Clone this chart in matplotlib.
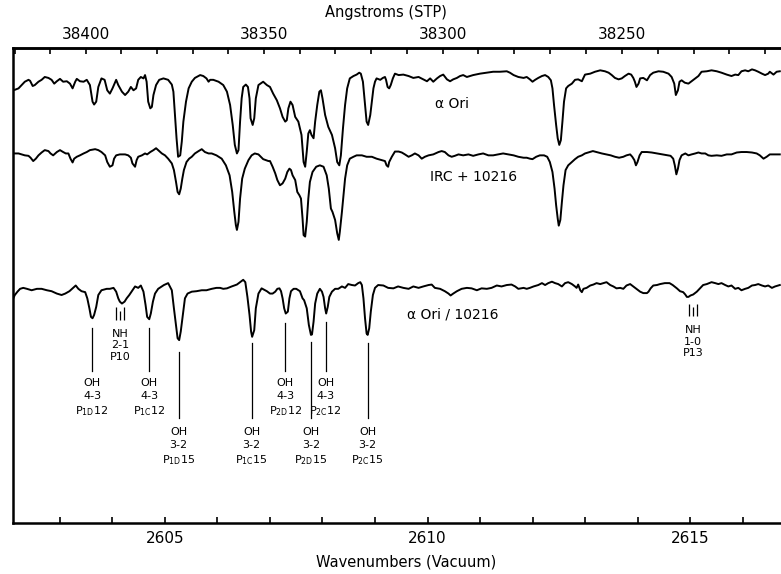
import numpy as np
import matplotlib
matplotlib.use("Agg")
from matplotlib import pyplot as plt

plt.rcParams['font.family'] = ['DejaVu Sans']
plt.rcParams['mathtext.default'] = 'regular'

# alpha Ori spectrum (wavenumber cm-1, relative intensity, arbitrary units)
wn_ori = [2602.14, 2602.21, 2602.27, 2602.33, 2602.40, 2602.43, 2602.48, 2602.52, 2602.59, 2602.65,
          2602.71, 2602.78, 2602.84, 2602.89, 2602.94, 2603.00, 2603.06, 2603.13, 2603.19, 2603.24,
          2603.29, 2603.32, 2603.38, 2603.45, 2603.51, 2603.57, 2603.62, 2603.65, 2603.69, 2603.73,
          2603.79, 2603.85, 2603.90, 2603.95, 2604.00, 2604.07, 2604.11, 2604.18, 2604.24, 2604.30,
          2604.35, 2604.40, 2604.45, 2604.49, 2604.54, 2604.59, 2604.62, 2604.65, 2604.68, 2604.72,
          2604.75, 2604.78, 2604.83, 2604.89, 2604.97, 2605.06, 2605.13, 2605.16, 2605.19, 2605.22,
          2605.25, 2605.29, 2605.32, 2605.35, 2605.40, 2605.45, 2605.51, 2605.57, 2605.67, 2605.73,
          2605.79, 2605.83, 2605.86, 2605.92, 2606.02, 2606.11, 2606.18, 2606.24, 2606.29, 2606.33,
          2606.37, 2606.40, 2606.43, 2606.46, 2606.49, 2606.54, 2606.58, 2606.61, 2606.63, 2606.67,
          2606.70, 2606.73, 2606.78, 2606.87, 2606.94, 2607.00, 2607.06, 2607.13, 2607.19, 2607.24,
          2607.29, 2607.32, 2607.35, 2607.39, 2607.43, 2607.48, 2607.54, 2607.60, 2607.64, 2607.67,
          2607.70, 2607.73, 2607.76, 2607.79, 2607.83, 2607.86, 2607.90, 2607.94, 2607.97, 2608.00,
          2608.05, 2608.11, 2608.18, 2608.24, 2608.28, 2608.32, 2608.35, 2608.39, 2608.43, 2608.47,
          2608.52, 2608.59, 2608.65, 2608.70, 2608.73, 2608.77, 2608.81, 2608.84, 2608.87, 2608.91,
          2608.94, 2608.97, 2609.00, 2609.03, 2609.10, 2609.15, 2609.19, 2609.21, 2609.24, 2609.27,
          2609.30, 2609.34, 2609.38, 2609.45, 2609.54, 2609.64, 2609.73, 2609.83, 2609.92, 2609.99,
          2610.05, 2610.11, 2610.18, 2610.24, 2610.30, 2610.37, 2610.43, 2610.49, 2610.56, 2610.62,
          2610.68, 2610.75, 2610.87, 2611.00, 2611.13, 2611.25, 2611.38, 2611.51, 2611.57, 2611.64,
          2611.73, 2611.83, 2611.89, 2611.95, 2612.00, 2612.05, 2612.11, 2612.18, 2612.24, 2612.30,
          2612.35, 2612.38, 2612.41, 2612.45, 2612.48, 2612.51, 2612.54, 2612.57, 2612.60, 2612.64,
          2612.68, 2612.75, 2612.81, 2612.87, 2612.94, 2613.00, 2613.10, 2613.19, 2613.29, 2613.38,
          2613.45, 2613.51, 2613.57, 2613.64, 2613.70, 2613.76, 2613.83, 2613.88, 2613.92, 2613.95,
          2613.98, 2614.02, 2614.05, 2614.11, 2614.18, 2614.24, 2614.30, 2614.40, 2614.49, 2614.59,
          2614.65, 2614.70, 2614.73, 2614.77, 2614.80, 2614.84, 2614.90, 2614.97, 2615.03, 2615.10,
          2615.16, 2615.22, 2615.32, 2615.41, 2615.51, 2615.60, 2615.70, 2615.79, 2615.86, 2615.92,
          2615.98, 2616.05, 2616.11, 2616.18, 2616.24, 2616.30, 2616.37, 2616.43, 2616.49, 2616.52,
          2616.59, 2616.65, 2616.71]
fl_ori = [91.2, 91.5, 92.2, 92.9, 93.3, 93.1, 92.0, 92.2, 92.9, 93.3,
          93.9, 93.7, 93.3, 92.5, 93.0, 93.5, 92.9, 93.0, 92.5, 91.5,
          92.9, 93.5, 93.0, 92.9, 93.3, 92.2, 88.7, 88.1, 88.7, 91.8,
          93.6, 93.3, 91.1, 90.4, 91.5, 93.3, 92.2, 90.8, 90.1, 90.8,
          91.8, 91.1, 91.5, 93.3, 93.9, 93.6, 94.3, 92.9, 88.7, 87.3,
          87.6, 90.1, 92.2, 93.3, 93.6, 93.3, 92.3, 90.8, 85.9, 81.0,
          77.1, 77.4, 80.3, 84.5, 88.7, 91.5, 92.9, 93.7, 94.3, 94.1,
          93.6, 92.9, 93.3, 93.3, 92.9, 92.2, 90.8, 88.0, 83.8, 79.6,
          77.8, 78.5, 84.5, 89.4, 91.8, 92.3, 91.8, 89.4, 85.2, 83.8,
          85.2, 89.4, 92.2, 92.9, 92.2, 91.8, 90.4, 89.0, 87.3, 85.5,
          84.5, 84.8, 87.3, 88.7, 88.0, 85.5, 84.5, 81.7, 76.0, 75.0,
          78.2, 82.0, 82.7, 81.7, 81.0, 84.5, 88.0, 90.8, 91.1, 89.4,
          85.9, 83.4, 81.7, 78.9, 76.0, 75.3, 77.4, 83.1, 88.0, 91.5,
          93.6, 94.1, 94.4, 94.8, 94.6, 92.9, 88.0, 84.5, 83.8, 85.9,
          88.7, 91.5, 92.9, 93.6, 93.3, 93.7, 93.9, 93.3, 91.8, 91.5,
          92.2, 93.6, 94.6, 94.3, 94.4, 94.1, 93.7, 93.9, 93.4, 93.0,
          93.6, 92.9, 93.6, 94.1, 94.4, 93.4, 93.0, 93.4, 93.7, 94.1,
          94.3, 93.9, 94.3, 94.6, 94.8, 95.0, 95.0, 95.1, 94.8, 94.3,
          93.9, 93.7, 93.9, 93.4, 92.9, 93.3, 93.7, 94.1, 94.3, 93.9,
          93.2, 91.5, 88.0, 83.8, 81.0, 79.6, 80.6, 84.5, 88.7, 91.5,
          92.0, 92.5, 93.3, 93.4, 93.0, 94.4, 94.6, 95.0, 95.3, 95.1,
          94.8, 94.3, 93.7, 93.4, 93.6, 94.1, 94.6, 94.4, 93.7, 92.9,
          91.8, 92.5, 93.6, 93.7, 93.2, 94.3, 94.8, 95.1, 95.0, 94.6,
          93.9, 92.5, 90.1, 91.1, 92.9, 93.2, 92.7, 92.5, 93.0, 93.6,
          94.1, 95.0, 95.1, 95.3, 95.1, 94.8, 94.4, 94.1, 94.4, 94.3,
          95.1, 95.3, 95.1, 95.5, 95.3, 95.0, 94.6, 94.3, 94.6, 95.0,
          94.4, 95.0, 95.1]

# IRC +10216 spectrum
wn_irc = [2602.14, 2602.21, 2602.27, 2602.33, 2602.40, 2602.44, 2602.49, 2602.54, 2602.59, 2602.65,
          2602.71, 2602.78, 2602.82, 2602.87, 2602.94, 2603.00, 2603.06, 2603.11, 2603.16, 2603.20,
          2603.24, 2603.27, 2603.32, 2603.38, 2603.45, 2603.51, 2603.57, 2603.67, 2603.73, 2603.79,
          2603.86, 2603.90, 2603.95, 2604.00, 2604.03, 2604.07, 2604.14, 2604.24, 2604.30, 2604.35,
          2604.38, 2604.43, 2604.46, 2604.49, 2604.56, 2604.62, 2604.66, 2604.72, 2604.78, 2604.83,
          2604.87, 2604.94, 2605.00, 2605.06, 2605.13, 2605.17, 2605.21, 2605.24, 2605.27, 2605.30,
          2605.33, 2605.36, 2605.41, 2605.46, 2605.51, 2605.57, 2605.64, 2605.70, 2605.76, 2605.83,
          2605.89, 2605.98, 2606.08, 2606.16, 2606.23, 2606.28, 2606.32, 2606.35, 2606.37, 2606.40,
          2606.43, 2606.47, 2606.52, 2606.59, 2606.65, 2606.71, 2606.78, 2606.87, 2606.92, 2606.97,
          2607.00, 2607.05, 2607.10, 2607.14, 2607.19, 2607.24, 2607.29, 2607.33, 2607.37, 2607.40,
          2607.43, 2607.48, 2607.52, 2607.56, 2607.59, 2607.62, 2607.64, 2607.67, 2607.70, 2607.73,
          2607.76, 2607.81, 2607.88, 2607.95, 2608.02, 2608.08, 2608.12, 2608.16, 2608.19, 2608.24,
          2608.28, 2608.31, 2608.33, 2608.37, 2608.40, 2608.43, 2608.47, 2608.52, 2608.59, 2608.65,
          2608.75, 2608.84, 2608.94, 2609.03, 2609.13, 2609.19, 2609.22, 2609.25, 2609.27, 2609.32,
          2609.38, 2609.45, 2609.51, 2609.57, 2609.64, 2609.70, 2609.76, 2609.83, 2609.89, 2609.95,
          2610.02, 2610.11, 2610.21, 2610.27, 2610.33, 2610.40, 2610.46, 2610.52, 2610.59, 2610.68,
          2610.78, 2610.87, 2610.97, 2611.06, 2611.16, 2611.25, 2611.35, 2611.44, 2611.54, 2611.64,
          2611.73, 2611.83, 2611.89, 2611.95, 2612.00, 2612.07, 2612.14, 2612.22, 2612.28, 2612.33,
          2612.38, 2612.42, 2612.45, 2612.48, 2612.50, 2612.53, 2612.56, 2612.59, 2612.63, 2612.68,
          2612.75, 2612.81, 2612.87, 2612.94, 2613.00, 2613.06, 2613.15, 2613.22, 2613.32, 2613.41,
          2613.49, 2613.57, 2613.65, 2613.73, 2613.79, 2613.86, 2613.90, 2613.94, 2613.97, 2614.00,
          2614.04, 2614.08, 2614.18, 2614.27, 2614.37, 2614.46, 2614.56, 2614.63, 2614.68, 2614.71,
          2614.74, 2614.77, 2614.80, 2614.84, 2614.91, 2614.97, 2615.03, 2615.10, 2615.16, 2615.22,
          2615.29, 2615.35, 2615.41, 2615.51, 2615.60, 2615.70, 2615.79, 2615.89, 2615.98, 2616.08,
          2616.18, 2616.27, 2616.33, 2616.40, 2616.46, 2616.52, 2616.62, 2616.71]
fl_irc = [77.8, 77.8, 77.6, 77.4, 77.3, 76.9, 76.2, 76.7, 77.4, 78.0,
          78.5, 78.3, 77.8, 77.4, 78.1, 78.5, 78.1, 77.8, 77.8, 76.7,
          75.9, 76.7, 77.1, 77.4, 77.8, 78.1, 78.5, 78.7, 78.5, 78.1,
          77.4, 76.0, 75.0, 75.3, 76.7, 77.4, 77.6, 77.6, 77.4, 76.9,
          75.7, 75.0, 76.4, 77.1, 77.4, 77.8, 77.6, 78.1, 78.5, 78.9,
          78.5, 77.8, 77.4, 76.7, 75.7, 74.3, 71.8, 69.7, 69.2, 70.4,
          72.5, 74.3, 76.0, 76.7, 77.1, 77.8, 78.3, 78.7, 78.1, 77.8,
          77.8, 77.4, 76.7, 75.3, 73.2, 69.7, 65.5, 62.7, 61.7, 63.4,
          68.3, 72.5, 74.6, 76.4, 77.4, 77.8, 77.6, 76.6, 76.4, 76.2,
          76.2, 75.0, 73.6, 72.2, 71.1, 71.5, 72.5, 73.9, 74.6, 74.3,
          73.2, 72.2, 69.7, 69.0, 68.3, 64.1, 60.6, 60.3, 63.4, 68.3,
          71.8, 73.9, 75.0, 75.3, 75.0, 73.2, 70.4, 66.2, 65.5, 63.8,
          61.0, 59.6, 61.3, 65.5, 69.0, 72.5, 75.3, 76.7, 77.1, 77.4,
          77.4, 77.1, 77.1, 76.7, 76.4, 76.2, 75.3, 75.0, 76.0, 77.1,
          78.2, 78.2, 78.0, 77.6, 77.1, 77.4, 77.8, 77.4, 76.7, 77.1,
          77.4, 77.6, 78.1, 78.3, 78.1, 77.4, 77.1, 77.3, 77.6, 77.4,
          77.6, 77.3, 77.6, 77.8, 77.4, 77.4, 77.6, 77.8, 77.6, 77.4,
          77.1, 76.9, 76.9, 76.7, 76.6, 77.1, 77.4, 77.4, 77.1, 76.0,
          73.9, 70.4, 66.9, 64.1, 62.6, 63.8, 67.6, 71.1, 74.3, 75.3,
          76.0, 76.6, 77.1, 77.4, 77.8, 78.0, 78.3, 78.1, 77.8, 77.6,
          77.4, 77.1, 76.9, 77.1, 77.4, 77.6, 77.1, 76.4, 75.3, 76.0,
          77.4, 78.1, 78.1, 78.0, 77.8, 77.6, 77.4, 77.3, 76.7, 75.3,
          73.4, 74.6, 76.4, 77.4, 77.8, 77.4, 77.6, 77.8, 78.0, 77.8,
          77.8, 77.4, 77.3, 77.4, 77.3, 77.6, 77.6, 78.0, 78.1, 78.1,
          78.0, 77.8, 77.4, 76.7, 77.1, 77.6, 77.6, 77.6]

# ratio alpha Ori / IRC +10216
wn_rat = [2602.11, 2602.14, 2602.19, 2602.24, 2602.30, 2602.37, 2602.46, 2602.56, 2602.65, 2602.75,
          2602.84, 2602.94, 2603.03, 2603.10, 2603.18, 2603.25, 2603.30, 2603.35, 2603.41, 2603.48,
          2603.52, 2603.56, 2603.59, 2603.62, 2603.65, 2603.69, 2603.73, 2603.79, 2603.89, 2603.95,
          2604.02, 2604.07, 2604.11, 2604.14, 2604.18, 2604.23, 2604.27, 2604.32, 2604.37, 2604.43,
          2604.49, 2604.54, 2604.59, 2604.63, 2604.66, 2604.70, 2604.73, 2604.77, 2604.81, 2604.87,
          2604.94, 2604.98, 2605.06, 2605.13, 2605.17, 2605.21, 2605.24, 2605.27, 2605.30, 2605.34,
          2605.38, 2605.43, 2605.51, 2605.60, 2605.70, 2605.79, 2605.89, 2605.98, 2606.05, 2606.11,
          2606.18, 2606.27, 2606.37, 2606.44, 2606.49, 2606.53, 2606.57, 2606.61, 2606.64, 2606.66,
          2606.70, 2606.73, 2606.78, 2606.84, 2606.94, 2607.00, 2607.05, 2607.10, 2607.14, 2607.18,
          2607.21, 2607.24, 2607.27, 2607.30, 2607.34, 2607.37, 2607.40, 2607.45, 2607.50, 2607.54,
          2607.57, 2607.62, 2607.65, 2607.70, 2607.74, 2607.78, 2607.80, 2607.83, 2607.86, 2607.90,
          2607.95, 2607.99, 2608.02, 2608.05, 2608.07, 2608.10, 2608.13, 2608.18, 2608.24, 2608.30,
          2608.37, 2608.43, 2608.49, 2608.56, 2608.62, 2608.68, 2608.72, 2608.75, 2608.78, 2608.81,
          2608.84, 2608.86, 2608.89, 2608.92, 2608.96, 2609.00, 2609.06, 2609.16, 2609.25, 2609.35,
          2609.44, 2609.54, 2609.64, 2609.73, 2609.83, 2609.92, 2610.02, 2610.08, 2610.14, 2610.24,
          2610.33, 2610.40, 2610.44, 2610.49, 2610.56, 2610.65, 2610.75, 2610.84, 2610.94, 2611.03,
          2611.13, 2611.22, 2611.32, 2611.41, 2611.51, 2611.60, 2611.67, 2611.73, 2611.83, 2611.89,
          2611.95, 2612.02, 2612.11, 2612.18, 2612.24, 2612.30, 2612.37, 2612.43, 2612.49, 2612.56,
          2612.62, 2612.68, 2612.75, 2612.81, 2612.84, 2612.87, 2612.91, 2612.94, 2612.97, 2613.03,
          2613.10, 2613.16, 2613.22, 2613.29, 2613.35, 2613.41, 2613.48, 2613.54, 2613.60, 2613.67,
          2613.73, 2613.79, 2613.86, 2613.92, 2613.98, 2614.05, 2614.11, 2614.18, 2614.21, 2614.25,
          2614.30, 2614.37, 2614.43, 2614.52, 2614.61, 2614.67, 2614.75, 2614.81, 2614.87, 2614.91,
          2614.94, 2614.97, 2615.01, 2615.06, 2615.13, 2615.19, 2615.25, 2615.32, 2615.41, 2615.48,
          2615.54, 2615.60, 2615.67, 2615.73, 2615.79, 2615.86, 2615.92, 2615.98, 2616.05, 2616.11,
          2616.18, 2616.24, 2616.30, 2616.37, 2616.43, 2616.49, 2616.56, 2616.62, 2616.68, 2616.71]
fl_rat = [47.3, 48.0, 48.7, 49.3, 49.5, 49.3, 49.0, 49.3, 49.3, 49.0,
          48.8, 48.3, 48.0, 48.3, 48.8, 49.5, 50.0, 49.3, 48.8, 48.6,
          47.3, 45.2, 43.4, 43.1, 43.8, 45.5, 48.0, 49.0, 49.3, 49.3,
          49.5, 48.7, 47.3, 46.6, 46.2, 46.6, 47.3, 48.0, 48.8, 49.8,
          49.5, 50.0, 48.7, 45.9, 43.4, 42.9, 44.1, 46.6, 48.3, 49.3,
          49.8, 50.1, 50.5, 49.0, 45.2, 41.7, 38.9, 38.5, 40.3, 43.8,
          47.3, 48.3, 48.7, 48.8, 49.0, 49.0, 49.3, 49.5, 49.5, 49.3,
          49.4, 49.8, 50.2, 50.8, 51.2, 50.7, 47.6, 43.8, 40.3, 39.2,
          40.6, 45.2, 48.3, 49.4, 48.8, 48.3, 48.3, 48.7, 49.3, 49.4,
          48.8, 47.3, 45.2, 44.1, 44.5, 47.3, 48.8, 49.3, 49.3, 49.0,
          48.8, 47.3, 46.9, 45.2, 41.7, 39.6, 39.7, 42.4, 46.2, 48.3,
          49.3, 48.7, 47.6, 45.2, 44.1, 45.5, 47.6, 48.7, 49.3, 49.3,
          49.8, 49.5, 50.3, 50.1, 50.0, 50.5, 50.7, 50.1, 47.3, 43.1,
          39.9, 39.6, 41.0, 44.5, 48.0, 49.5, 50.1, 50.0, 49.5, 49.4,
          49.8, 49.5, 49.3, 49.8, 49.5, 49.8, 50.1, 50.2, 49.5, 49.3,
          48.8, 48.3, 47.9, 48.3, 48.8, 49.3, 49.5, 49.4, 49.0, 49.4,
          49.3, 49.5, 50.0, 49.8, 50.1, 50.2, 49.8, 49.3, 49.5, 49.3,
          49.5, 49.8, 50.1, 50.5, 50.1, 50.5, 50.8, 50.5, 50.3, 49.8,
          50.5, 50.7, 50.3, 49.8, 49.5, 50.2, 49.0, 48.6, 49.3, 49.5,
          50.0, 50.2, 50.5, 50.3, 50.5, 50.7, 50.1, 49.8, 49.4, 49.5,
          49.3, 50.0, 50.3, 49.8, 49.3, 48.7, 48.4, 48.4, 48.7, 49.4,
          50.0, 50.1, 50.3, 50.5, 50.5, 50.1, 49.4, 48.8, 48.6, 48.1,
          47.6, 47.6, 47.9, 48.1, 48.7, 49.4, 50.1, 50.3, 50.7, 50.5,
          50.3, 50.5, 50.1, 49.8, 50.0, 49.3, 49.5, 49.0, 49.3, 49.5,
          50.0, 50.1, 50.3, 50.0, 49.8, 50.0, 49.5, 49.8, 50.0, 50.1]

# OH line identifications
oh_wn = [2603.61, 2604.70, 2605.26, 2606.65, 2607.29, 2607.78, 2608.06, 2608.86]
oh_band = ['4-3', '4-3', '3-2', '3-2', '4-3', '3-2', '4-3', '3-2']
oh_branch = ['1D', '1C', '1D', '1C', '2D', '2D', '2C', '2C']
oh_j = ['12', '12', '15', '15', '12', '15', '12', '15']
oh_top = [41.1, 41.1, 36.0, 37.9, 42.1, 38.1, 42.3, 37.9]

# NH line identifications
nh_wn = [[2604.07, 2604.14, 2604.22], [2614.98, 2615.06, 2615.13]]
nh_labels = ['NH\n2-1\nP10', 'NH\n1-0\nP13']

N_STP = 1.00026


def wn_to_air(wn):
    wn = np.asarray(wn, dtype=float)
    with np.errstate(divide='ignore', invalid='ignore'):
        return 1e8 / (N_STP * wn)


fig = plt.figure(figsize=(7.81, 5.74), dpi=100)
ax = fig.add_axes([13 / 781, 51 / 574, 787 / 781, 475 / 574])

for wn, fl in [(wn_ori, fl_ori), (wn_irc, fl_irc), (wn_rat, fl_rat)]:
    ax.plot(wn, fl, color='black', lw=1.4, solid_joinstyle='round')

ax.set_xlim(2602.105, 2617.095)
ax.set_ylim(0, 100)
ax.set_yticks([])
ax.set_xticks([2605, 2610, 2615])
ax.set_xticks(np.arange(2603, 2618), minor=True)
ax.tick_params(axis='x', which='both', direction='in', length=4, width=1.2, pad=6,
               labelsize=11, top=False)
for s in ax.spines.values():
    s.set_linewidth(1.8)

top = ax.secondary_xaxis('top', functions=(wn_to_air, wn_to_air))
top.set_ticks([38250, 38300, 38350, 38400])
top.set_ticks(np.arange(38200, 38460, 10), minor=True)
top.tick_params(which='both', direction='in', length=4, width=1.2, pad=4, labelsize=11)
top.spines['top'].set_linewidth(1.8)

# spectrum names
ax.text(2610.14, 88.2, 'α Ori', fontsize=10, va='center')
ax.text(2610.05, 72.8, 'IRC + 10216', fontsize=10, va='center')
ax.text(2609.61, 43.8, 'α Ori / 10216', fontsize=10, va='center')

# OH identifications
for x, band, br, j, yt in zip(oh_wn, oh_band, oh_branch, oh_j, oh_top):
    if band == '4-3':
        ybot, ytext = 32.0, 30.6
    else:
        ybot, ytext = 22.1, 20.3
    ax.plot([x, x], [yt, ybot], color='black', lw=0.9)
    ax.text(x, ytext, 'OH\n' + band + '\nP$_{' + br + '}$' + j, fontsize=8,
            ha='center', va='top', linespacing=1.38, multialignment='center')

# NH identifications
for xs, lab in zip(nh_wn, nh_labels):
    base = 42.8 if xs[0] < 2610 else 43.6
    ax.vlines(xs, [base, base, base], [base + 2.6, base + 1.8, base + 2.6], color='black', lw=0.9)
    ax.text(xs[1], base - 1.9, lab, fontsize=8, ha='center', va='top', linespacing=1.2)

fig.text(386 / 781, 1 - 13 / 574, 'Angstroms (STP)', fontsize=10.5, ha='center', va='center')
fig.text(406 / 781, 1 - 562 / 574, 'Wavenumbers (Vacuum)', fontsize=10.5, ha='center', va='center')

fig.savefig('out.png', dpi=100)
